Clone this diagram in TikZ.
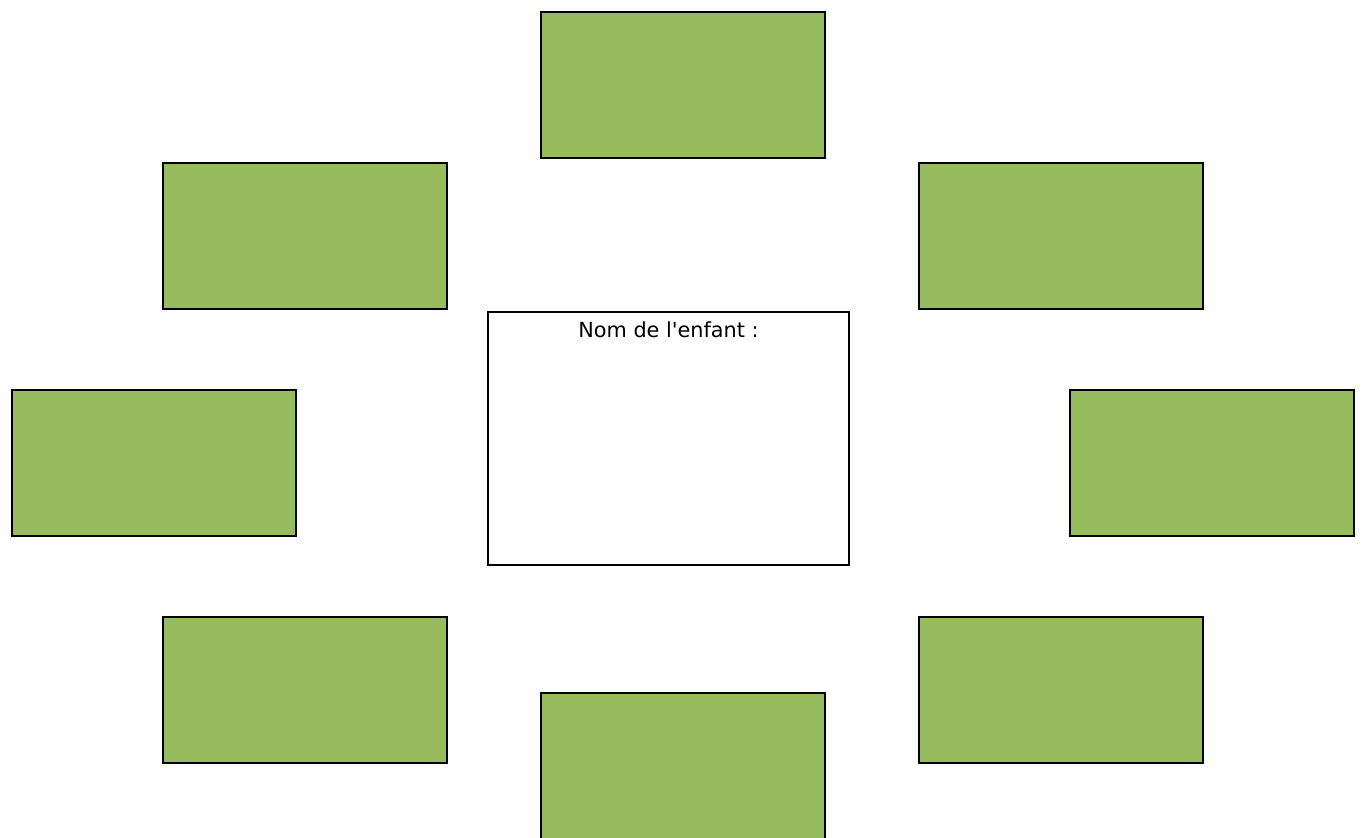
\documentclass[tikz,border=0pt]{standalone}
\usepackage{fontspec}
\setmainfont{DejaVu Sans}
\definecolor{leafgreen}{HTML}{96BC5E}

\begin{document}
\begin{tikzpicture}[x=0.75pt, y=-0.75pt,
  greenbox/.style={draw=black, fill=leafgreen, line width=1.1pt,
    minimum width=213pt, minimum height=109.5pt, inner sep=0pt},
  namebox/.style={draw=black, fill=white, line width=1.1pt,
    minimum width=270.75pt, minimum height=189.75pt, inner sep=0pt}]

% Page size
\useasboundingbox (0,0) rectangle (1363,838);

% Centre box
\node[namebox] (child) at (668.5,438.5) {};
\node[below=4pt, font=\fontsize{15.6}{18}\selectfont] (childlabel) at (child.north) {Nom de l\textquotesingle enfant :};

% Boxes around the centre
\node[greenbox] (top) at (683,85) {};
\node[greenbox] (upleft) at (305,236) {};
\node[greenbox] (upright) at (1061,236) {};
\node[greenbox] (left) at (154,463) {};
\node[greenbox] (right) at (1212,463) {};
\node[greenbox] (lowleft) at (305,690) {};
\node[greenbox] (lowright) at (1061,690) {};
\node[greenbox] (bottom) at (683,766) {};

\end{tikzpicture}
\end{document}
